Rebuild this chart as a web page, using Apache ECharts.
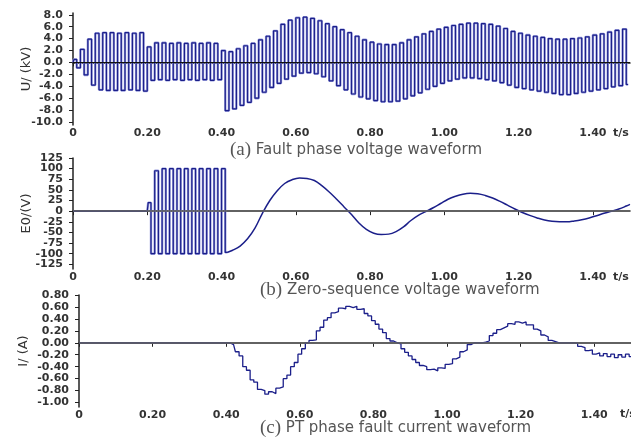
<!DOCTYPE html>
<html>
<head>
<meta charset="utf-8">
<script src="https://cdn.jsdelivr.net/npm/echarts@6/dist/echarts.min.js"></script>
<style>
html, body { margin: 0; padding: 0; background: #fff; }
#chart { width: 631px; height: 437px; }
</style>
</head>
<body>
<div id="chart"></div>
<script>
/* three stacked waveforms: phase voltage, zero-sequence voltage, PT current */

// (a) fault phase voltage, one top and one bottom value per 50 Hz cycle (kV)
var cycle = 0.02;
var phaseTop = [0.5,2.2,3.9,4.9,5.0,5.0,4.9,5.0,4.9,5.0,
	2.6,3.3,3.3,3.2,3.3,3.2,3.3,3.2,3.3,3.2,
	2.0,1.8,2.3,2.8,3.2,3.8,4.4,5.3,6.4,7.1,
	7.5,7.6,7.4,7.0,6.5,6.0,5.5,5.0,4.4,3.8,
	3.4,3.1,3.0,3.0,3.3,3.8,4.3,4.8,5.2,5.6,
	5.9,6.2,6.4,6.6,6.6,6.5,6.4,6.1,5.7,5.2,
	4.9,4.6,4.4,4.2,4.0,3.9,3.9,4.0,4.1,4.3,
	4.6,4.8,5.1,5.4,5.6];
var phaseBottom = [-0.9,-2.1,-3.8,-4.6,-4.7,-4.7,-4.7,-4.6,-4.7,-4.8,
	-3.0,-2.9,-3.0,-2.9,-3.0,-2.9,-3.0,-2.9,-3.0,-2.9,
	-8.1,-7.8,-7.2,-6.7,-6.0,-5.0,-4.2,-3.5,-2.8,-2.3,
	-1.8,-1.7,-1.9,-2.4,-3.1,-3.9,-4.6,-5.3,-5.8,-6.1,
	-6.4,-6.6,-6.6,-6.5,-6.1,-5.6,-5.1,-4.5,-4.0,-3.5,
	-3.1,-2.8,-2.6,-2.6,-2.7,-2.9,-3.1,-3.4,-3.8,-4.2,
	-4.4,-4.6,-4.8,-5.0,-5.2,-5.4,-5.4,-5.2,-5.0,-4.8,
	-4.6,-4.4,-4.1,-3.9,-3.7];

// (b) zero-sequence voltage (V): burst of half-cycle extremes, then the decay
var burstStart = 0.205;
var burstStep = 0.01;
var burstValues = [20,-100,95,-100,100,-100,100,-100,100,-100,100,-100,100,-100,100,-100,100,-100,100,-100,100];
var decayTimes = [0.415,0.43,0.45,0.47,0.49,0.51,0.53,0.55,0.57,0.59,0.61,0.63,0.65,0.67,0.69,0.71,0.73,0.75,0.77,0.79,
	0.81,0.83,0.85,0.87,0.89,0.91,0.93,0.95,0.97,0.99,1.01,1.03,1.05,1.07,1.09,1.11,1.13,1.15,1.17,1.19,
	1.21,1.23,1.25,1.27,1.29,1.31,1.33,1.35,1.37,1.39,1.41,1.43,1.45,1.47,1.49,1.50];
var decayValues = [-97,-92,-82,-65,-40,-5,25,48,65,74,78,77,72,60,45,28,10,-8,-28,-43,
	-52,-55,-54,-48,-37,-22,-10,-1,8,18,28,35,40,42,41,37,31,23,14,5,
	-3,-10,-16,-21,-24,-25,-25,-23,-20,-16,-11,-5,0,5,12,16];

// (c) PT phase current (A), every 0.01 s from 0.40 s
var currentStart = 0.40;
var currentStep = 0.01;
var currentValues = [0,0,-0.03,-0.15,-0.22,-0.40,-0.46,-0.62,-0.66,-0.78,
	-0.80,-0.86,-0.82,-0.85,-0.76,-0.74,-0.60,-0.54,-0.40,-0.33,
	-0.19,-0.10,0.00,0.04,0.05,0.20,0.26,0.38,0.42,0.50,
	0.52,0.58,0.57,0.61,0.59,0.61,0.56,0.57,0.49,0.45,
	0.37,0.31,0.23,0.17,0.07,0.03,0.00,-0.02,-0.10,-0.16,
	-0.22,-0.28,-0.33,-0.38,-0.40,-0.45,-0.44,-0.47,-0.42,-0.43,
	-0.36,-0.35,-0.27,-0.24,-0.15,-0.12,-0.03,0.00,0.00,0.00,
	0.01,0.03,0.12,0.16,0.22,0.25,0.28,0.32,0.31,0.35,
	0.33,0.35,0.30,0.30,0.23,0.20,0.13,0.10,0.04,0.02,
	0.00,0.00,0.00,0.00,0.00,-0.01,-0.06,-0.08,-0.13,-0.12,
	-0.19,-0.17,-0.22,-0.18,-0.23,-0.19,-0.25,-0.20,-0.24,-0.19,
	-0.23];

// tick labels
var xTicks = [0, 0.2, 0.4, 0.6, 0.8, 1.0, 1.2, 1.4];
var uTicks = [8, 6, 4, 2, 0, -2, -4, -6, -8, -10];
var e0Ticks = [125, 100, 75, 50, 25, 0, -25, -50, -75, -100, -125];
var iTicks = [0.8, 0.6, 0.4, 0.2, 0, -0.2, -0.4, -0.6, -0.8, -1.0];

var captions = ["Fault phase voltage waveform", "Zero-sequence voltage waveform", "PT phase fault current waveform"];

var lineColor = "#1b1f8a";
var haloColor = "#9a9edd";
var labelFont = "DejaVu Sans";

// build series data
var phaseData = [[0, 0]];
for (var k = 0; k < phaseTop.length; k++) {
	phaseData.push([k * cycle + 0.005, phaseTop[k]]);
	phaseData.push([k * cycle + 0.015, phaseBottom[k]]);
}

var burstData = [[0.2, 0]];
for (var i = 0; i < burstValues.length; i++) {
	burstData.push([burstStart + i * burstStep, burstValues[i]]);
}
burstData.push([decayTimes[0], decayValues[0]]);
var flatData = [[0, 0], [0.2, 0]];
var decayData = [];
for (var i = 0; i < decayTimes.length; i++) {
	decayData.push([decayTimes[i], decayValues[i]]);
}

var currentData = [[0, 0]];
for (var i = 0; i < currentValues.length; i++) {
	currentData.push([currentStart + i * currentStep, currentValues[i]]);
}

// the E0 labels sit closer than one text line, so they go on two stacked axes
var e0Odd = e0Ticks.filter(function (v, i) { return i % 2 == 0; });
var e0Even = e0Ticks.filter(function (v, i) { return i % 2 == 1; });

function zeroLine(color, width) {
	return {
		silent: true,
		symbol: "none",
		label: {show: false},
		lineStyle: {color: color, width: width, type: "solid"},
		data: [{yAxis: 0}]
	};
}

function xAxisFor(idx) {
	return {
		type: "value", gridIndex: idx, min: 0, max: 1.5,
		axisLine: {lineStyle: {color: "#222", width: 1.5}},
		axisTick: {length: 4, lineStyle: {color: "#222"}, customValues: xTicks},
		axisLabel: {
			customValues: xTicks, margin: 3,
			color: "#333", fontFamily: labelFont, fontWeight: "bold", fontSize: 11,
			formatter: function (v) { return v === 0 ? "0" : v.toFixed(2); }
		},
		splitLine: {show: false}
	};
}

function yAxisFor(idx, min, max, ticks, digits, name, gap) {
	return {
		type: "value", gridIndex: idx, min: min, max: max, position: "left",
		name: name, nameLocation: "middle", nameGap: gap, nameMoveOverlap: false,
		nameTextStyle: {color: "#333", fontFamily: labelFont, fontSize: 13},
		axisLine: {show: true, onZero: false, lineStyle: {color: "#222", width: 1.5}},
		axisTick: {show: true, length: 4, lineStyle: {color: "#222"}, customValues: ticks},
		axisLabel: {
			customValues: ticks, margin: 10, interval: 0, hideOverlap: false,
			showMinLabel: true, showMaxLabel: true,
			color: "#333", fontFamily: labelFont, fontWeight: "bold", fontSize: 11,
			formatter: function (v) { return v.toFixed(digits); }
		},
		splitLine: {show: false}
	};
}

function caption(letter, text, x, y) {
	return {
		type: "text", left: x, top: y,
		style: {
			text: "{p|(" + letter + ")} " + text,
			fill: "#555",
			font: "15px 'DejaVu Sans'",
			rich: {p: {fontFamily: "Liberation Serif", fontSize: 19, fill: "#555"}}
		}
	};
}

function unitText(x, y) {
	return {
		type: "text", left: x, top: y,
		style: {text: "t/s", fill: "#333", font: "bold 11px 'DejaVu Sans'"}
	};
}

var e0Second = yAxisFor(1, -136, 125, e0Even, 0, "", 40);
e0Second.axisLine.show = false;

var myChart = echarts.init(document.getElementById("chart"));

option = {
	animation: false,
	backgroundColor: "#fff",
	grid: [
		{left: 73, right: 1, top: 13, height: 112},
		{left: 73, right: 1, top: 158, height: 111},
		{left: 79, right: -3, top: 295, height: 112}
	],
	xAxis: [xAxisFor(0), xAxisFor(1), xAxisFor(2)],
	yAxis: [
		yAxisFor(0, -10.5, 8.3, uTicks, 1, "U/ (kV)", 40),
		yAxisFor(1, -136, 125, e0Odd, 0, "E0/(V)", 40),
		yAxisFor(2, -1.075, 0.8, iTicks, 2, "I/ (A)", 49),
		e0Second
	],
	series: [
		{
			type: "line", xAxisIndex: 0, yAxisIndex: 0, data: phaseData, step: "middle",
			showSymbol: false, lineStyle: {color: haloColor, width: 2.4}
		},
		{
			type: "line", xAxisIndex: 0, yAxisIndex: 0, data: phaseData, step: "middle",
			showSymbol: false, lineStyle: {color: lineColor, width: 1.2},
			markLine: zeroLine("#111", 1.2)
		},
		{
			type: "line", xAxisIndex: 1, yAxisIndex: 1, data: burstData, step: "middle",
			showSymbol: false, lineStyle: {color: haloColor, width: 2.4}
		},
		{
			type: "line", xAxisIndex: 1, yAxisIndex: 1, data: burstData, step: "middle",
			showSymbol: false, lineStyle: {color: lineColor, width: 1.2},
			markLine: zeroLine("#666", 1.5)
		},
		{
			type: "line", xAxisIndex: 1, yAxisIndex: 1, data: flatData,
			showSymbol: false, lineStyle: {color: lineColor, width: 1.5}
		},
		{
			type: "line", xAxisIndex: 1, yAxisIndex: 1, data: decayData, smooth: 0.4,
			showSymbol: false, lineStyle: {color: lineColor, width: 1.5}
		},
		{
			type: "line", xAxisIndex: 2, yAxisIndex: 2, data: currentData, step: "middle",
			showSymbol: false, lineStyle: {color: lineColor, width: 1.3},
			markLine: zeroLine("#666", 1.5)
		}
	],
	graphic: [
		caption("a", captions[0], 230, 141),
		caption("b", captions[1], 260, 281),
		caption("c", captions[2], 260, 419),
		unitText(613, 128),
		unitText(613, 272),
		unitText(620, 409)
	]
};

myChart.setOption(option);
</script>
</body>
</html>
